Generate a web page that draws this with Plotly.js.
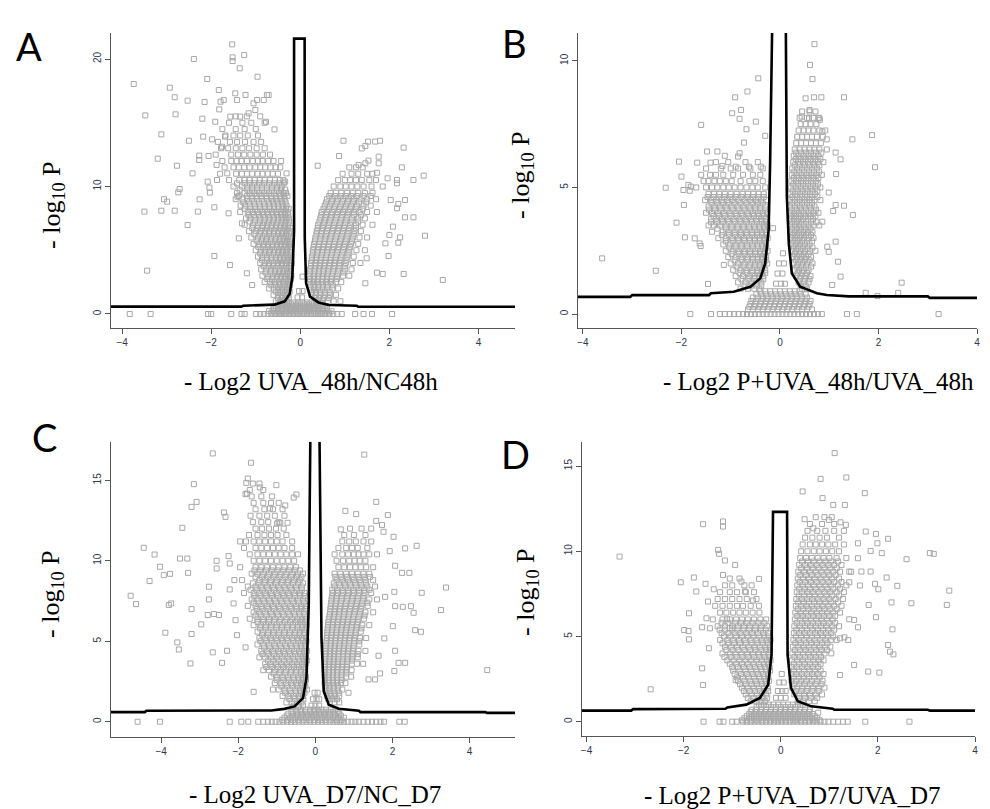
<!DOCTYPE html>
<html>
<head>
<meta charset="utf-8">
<script src="https://cdn.plot.ly/plotly-3.0.1.min.js"></script>
<style>html,body{margin:0;padding:0;background:#fff}#chart{width:990px;height:809px}</style>
</head>
<body>
<div id="chart"></div>
<script>
// ---------- Panel A : - Log2 UVA_48h/NC48h ----------
const A_points = [
[-3.74,18.04],[-3.48,15.58],[-3.50,8.03],[-3.44,3.40],[-3.20,12.18],[-3.12,14.09],[-3.12,8.10],[-3.06,9.0],[-2.99,8.81],[-2.93,17.75],[-2.82,17.0],[-2.80,15.66],[-2.82,8.10],[-2.77,11.63],[-2.71,9.8],[-2.74,9.54],[-2.53,16.73],[-2.50,13.59],[-2.53,6.98],[-2.42,11.03],[-2.39,20.0],[-2.30,8.03],[-2.27,12.42],[-2.27,12.08],[-2.26,8.99],[-2.20,15.32],[-2.18,13.91],[-2.15,16.63],[-2.09,18.43],[-2.08,10.38],[-2.06,12.39],[-2.04,9.91],[-2.03,9.52],[-1.98,13.70],[-1.93,8.37],[-1.93,4.55],[-1.91,15.08],[-1.88,11.69],[-1.87,10.51],[-1.83,17.57],[-1.82,16.05],[-1.79,16.65],[-1.76,13.12],[-1.72,16.78],[-1.69,13.91],[-1.64,11.03],[-1.61,7.9],[-1.58,3.84],[-1.57,15.48],[-1.53,21.15],[-1.52,20.13],[-1.52,19.84],[-1.46,17.31],[-1.42,16.78],[-1.41,9.2],[-1.38,5.93],[-1.36,19.27],[-1.35,15.48],[-1.31,7.11],[-1.26,20.31],[-1.23,17.18],[-1.20,3.19],[-1.16,15.74],[-1.08,2.27],[-1.05,16.52],[-1.01,16.0],[-0.97,16.78],[-0.96,18.61],[-0.82,16.78],[-0.77,15.08],[-0.75,17.18],[-0.71,17.18],[-0.58,14.48],[-0.43,12.0],[-0.34,10.38],[-0.31,11.03],
[0.39,11.63],[0.87,12.39],[0.97,13.59],[1.38,12.99],[1.46,13.18],[1.52,13.52],[1.68,13.52],[1.79,13.59],[1.76,12.34],[1.76,11.82],[1.31,11.69],[1.46,11.82],[1.53,12.03],[1.72,11.08],[2.32,13.05],[2.28,11.5],[1.96,10.64],[2.17,10.51],[2.17,10.25],[2.54,10.51],[2.77,10.85],[2.35,8.94],[2.03,8.94],[2.20,8.63],[2.17,8.29],[2.35,7.58],[2.54,7.58],[2.08,6.85],[2.00,6.2],[2.24,6.01],[2.20,5.59],[1.91,5.54],[1.98,4.55],[2.80,6.14],[2.32,3.14],[1.85,3.14],[1.72,3.24],[3.20,2.67],[1.46,2.41],[1.49,4.37],[0.05,2.93]
];
// rows: [y, x1, x2, ...]
const A_rows = [
[15.5,-1.45,-1.2,-0.9],
[15.0,-1.6,-1.3,-1.1,-0.8],
[14.5,-1.75,-1.45,-1.25,-1.0],
[14.0,-1.68,-1.5,-1.35,-1.18,-0.95],
[13.5,-1.85,-1.58,-1.42,-1.24,-1.05,-0.88],
[13.0,-1.78,-1.62,-1.45,-1.3,-1.15,-0.98,-0.8],
[12.5,-1.9,-1.55,-1.4,-1.26,-1.12,-0.98,-0.84,-0.68],
[12.0,-1.75,-1.55,-1.43,-1.32,-1.2,-1.07,-0.95,-0.85,-0.72,-0.6],
[11.5,-1.7,-1.5,-1.38,-1.26,-1.14,-1.01,-0.9,-0.79,-0.67,-0.55,-0.45],
[11.0,-1.8,-1.44,-1.31,-1.2,-1.08,-0.96,-0.85,-0.73,-0.62,-0.5],
[10.5,-1.6,-1.37,-1.25,-1.14,-1.02,-0.91,-0.8,-0.68,-0.57,-0.46,-0.38],
[10.25,-1.42,-1.25,-1.14,-1.03,-0.92,-0.81,-0.7,-0.58,-0.47,-0.37],
[10.0,-1.5,-1.31,-1.19,-1.08,-0.97,-0.86,-0.75,-0.63,-0.52,-0.42],
[9.75,-1.36,-1.19,-1.08,-0.97,-0.86,-0.75,-0.64,-0.53,-0.43,-0.34],
[9.5,-1.42,-1.25,-1.14,-1.03,-0.92,-0.81,-0.7,-0.59,-0.48,-0.38,-0.32],
[9.25,-1.38,-1.2,-1.09,-0.98,-0.87,-0.76,-0.65,-0.55,-0.45,-0.36,-0.29],
[9.0,-1.45,-1.3,-1.19,-1.08,-0.97,-0.86,-0.75,-0.64,-0.54,-0.44,-0.35],
[8.75,-1.28,-1.15,-1.04,-0.93,-0.82,-0.71,-0.61,-0.51,-0.41,-0.33],
[8.5,-1.34,-1.24,-1.13,-1.02,-0.91,-0.8,-0.69,-0.59,-0.49,-0.39,-0.31],
[8.25,-1.25,-1.12,-1.01,-0.9,-0.79,-0.69,-0.59,-0.49,-0.4,-0.32,-0.26],
[8.0,-1.35,-1.18,-1.07,-0.96,-0.85,-0.74,-0.64,-0.54,-0.44,-0.35,-0.28],
[7.75,-1.16,-1.04,-0.93,-0.83,-0.72,-0.62,-0.52,-0.43,-0.34,-0.27],
[7.5,-1.22,-1.12,-1.01,-0.9,-0.79,-0.69,-0.59,-0.49,-0.4,-0.31,-0.26],
[7.25,-1.14,-1.02,-0.91,-0.81,-0.71,-0.61,-0.51,-0.42,-0.33,-0.25],
[7.0,-1.25,-1.06,-0.95,-0.84,-0.74,-0.64,-0.54,-0.44,-0.35,-0.27],
[6.75,-1.08,-0.96,-0.85,-0.75,-0.65,-0.55,-0.45,-0.36,-0.28,-0.22],
[6.5,-1.15,-1.0,-0.89,-0.79,-0.69,-0.59,-0.49,-0.4,-0.31,-0.24],
[6.25,-1.03,-0.91,-0.8,-0.7,-0.6,-0.5,-0.41,-0.32,-0.25],
[6.0,-1.1,-0.95,-0.85,-0.75,-0.65,-0.55,-0.45,-0.36,-0.28,-0.21],
[5.75,-0.98,-0.87,-0.77,-0.67,-0.57,-0.47,-0.38,-0.3,-0.23],
[5.5,-1.05,-0.92,-0.82,-0.72,-0.62,-0.52,-0.43,-0.34,-0.26,-0.2],
[5.25,-0.94,-0.83,-0.73,-0.63,-0.53,-0.44,-0.35,-0.27,-0.21],
[5.0,-1.0,-0.88,-0.78,-0.68,-0.58,-0.48,-0.39,-0.3,-0.22],
[4.75,-0.9,-0.8,-0.7,-0.6,-0.5,-0.41,-0.32,-0.24],
[4.5,-0.95,-0.85,-0.75,-0.65,-0.55,-0.45,-0.36,-0.28,-0.2],
[4.25,-0.86,-0.75,-0.65,-0.55,-0.46,-0.37,-0.29,-0.22],
[4.0,-0.9,-0.8,-0.7,-0.6,-0.5,-0.41,-0.32,-0.24,-0.19],
[3.75,-0.82,-0.71,-0.61,-0.51,-0.42,-0.33,-0.25],
[3.5,-0.88,-0.76,-0.66,-0.56,-0.46,-0.37,-0.29,-0.21],
[3.25,-0.78,-0.67,-0.57,-0.48,-0.39,-0.3,-0.23],
[3.0,-0.85,-0.72,-0.62,-0.52,-0.43,-0.34,-0.26,-0.2],
[2.75,-0.74,-0.63,-0.53,-0.44,-0.35,-0.27,-0.21],
[2.5,-0.8,-0.68,-0.58,-0.48,-0.39,-0.31,-0.24],
[2.25,-0.65,-0.55,-0.46,-0.37,-0.29,-0.23],
[2.0,-0.7,-0.6,-0.5,-0.41,-0.33,-0.26],
[1.75,-0.55,-0.46,-0.38,-0.3,-0.24],
[1.5,-0.6,-0.5,-0.42,-0.34,-0.27],
[1.25,-0.5,-0.41,-0.33,-0.26],
[1.0,-0.55,-0.45,-0.37,-0.3],
[11.5,1.1,1.25,1.4],
[11.0,0.95,1.15,1.3,1.5,1.62],
[10.5,0.85,1.0,1.12,1.25,1.38,1.55,1.7],
[10.0,0.75,0.9,1.02,1.15,1.28,1.42,1.6,1.85],
[9.5,0.68,0.8,0.92,1.05,1.18,1.3,1.45,1.62],
[9.25,0.65,0.78,0.9,1.02,1.14,1.27,1.42,1.58],
[9.0,0.6,0.72,0.84,0.96,1.08,1.2,1.35,1.5,1.7],
[8.75,0.58,0.7,0.82,0.94,1.06,1.18,1.32,1.48],
[8.5,0.55,0.66,0.78,0.9,1.02,1.14,1.27,1.42,1.58],
[8.25,0.52,0.64,0.76,0.88,1.0,1.12,1.25,1.4],
[8.0,0.48,0.6,0.72,0.84,0.96,1.08,1.2,1.33,1.5,1.72],
[7.75,0.47,0.58,0.7,0.82,0.94,1.06,1.2,1.36],
[7.5,0.45,0.56,0.68,0.8,0.92,1.04,1.16,1.3,1.45],
[7.25,0.43,0.54,0.66,0.78,0.9,1.02,1.15,1.3],
[7.0,0.4,0.52,0.64,0.76,0.88,1.0,1.12,1.25,1.4,1.62],
[6.75,0.39,0.5,0.62,0.74,0.86,0.98,1.1,1.25],
[6.5,0.37,0.48,0.6,0.72,0.84,0.96,1.08,1.22,1.36],
[6.25,0.36,0.47,0.58,0.7,0.82,0.94,1.06,1.2],
[6.0,0.34,0.45,0.56,0.68,0.8,0.92,1.04,1.18,1.33,1.5],
[5.75,0.33,0.44,0.55,0.66,0.78,0.9,1.02,1.16],
[5.5,0.31,0.42,0.53,0.64,0.76,0.88,1.0,1.14,1.3],
[5.25,0.3,0.41,0.52,0.63,0.75,0.86,0.98,1.12],
[5.0,0.28,0.39,0.5,0.61,0.72,0.84,0.96,1.1,1.26,1.45],
[4.75,0.28,0.38,0.49,0.6,0.71,0.82,0.94,1.08],
[4.5,0.26,0.36,0.47,0.58,0.69,0.8,0.92,1.06,1.2],
[4.25,0.26,0.36,0.46,0.57,0.68,0.79,0.9,1.04],
[4.0,0.24,0.34,0.44,0.55,0.66,0.77,0.88,1.02,1.18,1.35],
[3.75,0.24,0.34,0.44,0.54,0.65,0.76,0.88,1.0],
[3.5,0.22,0.32,0.42,0.52,0.63,0.74,0.86,1.0,1.15],
[3.25,0.22,0.32,0.42,0.52,0.62,0.73,0.85,0.97],
[3.0,0.2,0.3,0.4,0.5,0.6,0.71,0.83,0.96,1.1],
[2.75,0.22,0.31,0.4,0.5,0.6,0.7,0.82],
[2.5,0.2,0.29,0.38,0.48,0.58,0.68,0.8,0.92],
[2.25,0.23,0.32,0.41,0.51,0.61,0.73],
[2.0,0.22,0.31,0.4,0.5,0.6,0.72,0.85],
[1.75,0.26,0.35,0.45,0.55,0.66],
[1.5,0.25,0.35,0.45,0.55,0.67,0.8],
[1.25,0.32,0.42,0.52,0.64],
[1.0,0.38,0.5,0.62,0.75,0.9],
[1.8,-0.03,0.05],
[1.3,-0.06,0.04],
[0.9,-0.45,-0.35,-0.25,-0.15,-0.05,0.05,0.15,0.25,0.35,0.45],
[0.75,-0.5,-0.4,-0.3,-0.2,-0.1,0,0.1,0.2,0.3,0.4,0.5],
[0.6,-0.55,-0.45,-0.36,-0.27,-0.18,-0.09,0,0.09,0.18,0.27,0.36,0.45,0.55],
[0.48,-0.6,-0.5,-0.41,-0.32,-0.23,-0.14,-0.05,0.05,0.14,0.23,0.32,0.41,0.5,0.6],
[0.35,-0.6,-0.5,-0.4,-0.3,-0.2,-0.1,0,0.1,0.2,0.3,0.4,0.5,0.6],
[0.22,-0.7,-0.6,-0.5,-0.4,-0.3,-0.2,-0.1,0,0.1,0.2,0.3,0.4,0.5,0.6,0.7],
[0.1,-0.65,-0.55,-0.45,-0.35,-0.25,-0.15,-0.05,0.05,0.15,0.25,0.35,0.45,0.55,0.65]
];
const A_zero = [-3.83,-3.36,-2.07,-2.0,-1.55,-1.32,-1.25,-0.99,-0.9,-0.82,-0.73,-0.65,-0.56,-0.48,-0.4,-0.32,-0.24,-0.16,-0.08,0,0.08,0.16,0.24,0.32,0.4,0.48,0.56,0.65,0.74,0.83,0.93,1.23,1.42,1.61,2.06];
const A_curveX = [-4.25,-1.32,-1.28,-0.58,-0.35,-0.24,-0.18,-0.14,-0.14,0.097,0.1,0.13,0.22,0.41,0.64,1.27,1.3,4.82];
const A_curveY = [0.58,0.58,0.65,0.73,0.99,1.56,2.86,6.5,21.6,21.6,6.0,2.41,1.36,0.89,0.7,0.65,0.57,0.57];

// ---------- Panel B : - Log2 P+UVA_48h/UVA_48h ----------
const B_points = [
[-3.61,2.20],[-2.52,1.71],[-2.32,4.99],[-2.10,3.61],[-2.05,6.02],[-2.0,5.43],[-1.96,4.9],[-1.95,4.31],[-1.93,3.03],[-1.86,5.10],[-1.83,4.87],[-1.81,5.03],[-1.73,2.99],[-1.68,5.98],[-1.63,2.79],[-1.60,7.47],[-1.61,2.69],[-1.48,6.42],[-1.46,1.19],[-1.41,5.98],[-1.27,6.42],[-1.17,5.85],[-1.12,6.25],[-1.14,1.94],[-0.97,7.93],[-0.91,8.56],[-0.90,5.82],[-0.85,6.22],[-0.82,6.35],[-0.82,7.71],[-0.79,8.06],[-0.73,6.77],[-0.68,7.3],[-0.66,8.79],[-0.63,5.82],[-0.49,7.60],[-0.44,9.31],[-0.39,5.82],[-0.30,7.04],[-0.14,3.39],
[0.61,9.84],[0.66,9.28],[0.52,8.52],[0.60,8.06],[0.69,8.56],[0.84,8.56],[1.30,8.56],[0.70,10.66],[0.44,7.80],[0.59,7.73],[0.78,7.73],[0.81,7.67],[0.86,7.21],[0.95,6.9],[1.47,6.9],[1.87,7.07],[1.93,5.80],[1.13,6.38],[1.23,6.11],[1.14,5.53],[0.99,4.80],[1.13,4.31],[1.30,4.28],[1.08,4.07],[1.48,3.91],[0.86,3.65],[1.13,2.86],[1.18,2.07],[1.23,1.48],[1.06,1.15],[1.74,0.84],[1.98,0.71],[2.40,0.84],[2.47,1.24],[0.99,2.46],[0.96,2.66]
];
const B_rows = [
[6.0,-1.3,-1.05,-0.7,-0.45],
[5.75,-1.5,-1.2,-1.0,-0.85,-0.6,-0.35],
[5.5,-1.6,-1.42,-1.3,-1.15,-0.95,-0.75,-0.55,-0.4],
[5.25,-1.55,-1.45,-1.33,-1.22,-1.1,-0.98,-0.8,-0.62,-0.5,-0.35],
[5.0,-1.7,-1.5,-1.38,-1.27,-1.15,-1.04,-0.92,-0.8,-0.68,-0.56,-0.45,-0.3],
[4.75,-1.45,-1.34,-1.23,-1.12,-1.0,-0.88,-0.76,-0.65,-0.54,-0.43,-0.33],
[4.625,-1.47,-1.35,-1.24,-1.13,-1.01,-0.9,-0.78,-0.66,-0.55,-0.44,-0.33],
[4.5,-1.52,-1.4,-1.29,-1.18,-1.07,-0.96,-0.84,-0.72,-0.6,-0.49,-0.38,-0.28],
[4.375,-1.39,-1.27,-1.16,-1.04,-0.92,-0.8,-0.68,-0.56,-0.45,-0.35],
[4.25,-1.45,-1.33,-1.22,-1.1,-0.98,-0.86,-0.74,-0.62,-0.5,-0.4,-0.3],
[4.125,-1.44,-1.32,-1.2,-1.08,-0.96,-0.84,-0.72,-0.6,-0.5,-0.4,-0.3],
[4.0,-1.5,-1.38,-1.26,-1.14,-1.02,-0.9,-0.78,-0.66,-0.55,-0.45,-0.35,-0.26],
[3.875,-1.35,-1.24,-1.12,-1.0,-0.88,-0.76,-0.64,-0.53,-0.43,-0.33],
[3.75,-1.4,-1.3,-1.18,-1.06,-0.94,-0.82,-0.7,-0.59,-0.48,-0.38,-0.29],
[3.625,-1.4,-1.28,-1.16,-1.04,-0.92,-0.8,-0.68,-0.57,-0.47,-0.37,-0.29],
[3.5,-1.45,-1.34,-1.22,-1.1,-0.98,-0.86,-0.74,-0.63,-0.52,-0.42,-0.33,-0.25],
[3.375,-1.27,-1.1,-0.98,-0.86,-0.74,-0.62,-0.51,-0.41,-0.32],
[3.25,-1.38,-1.16,-1.04,-0.92,-0.8,-0.68,-0.57,-0.46,-0.37,-0.28],
[3.125,-1.18,-1.04,-0.91,-0.79,-0.67,-0.56,-0.46,-0.36,-0.28],
[3.0,-1.25,-1.1,-0.97,-0.85,-0.73,-0.62,-0.51,-0.41,-0.32,-0.25],
[2.875,-1.1,-0.96,-0.84,-0.72,-0.61,-0.51,-0.41,-0.32],
[2.75,-1.15,-1.02,-0.9,-0.78,-0.67,-0.56,-0.46,-0.36,-0.28],
[2.625,-1.03,-0.9,-0.78,-0.66,-0.55,-0.45,-0.35,-0.28],
[2.5,-1.1,-0.96,-0.84,-0.72,-0.61,-0.5,-0.4,-0.31,-0.25],
[2.375,-0.98,-0.84,-0.72,-0.6,-0.5,-0.4,-0.32],
[2.25,-1.05,-0.9,-0.78,-0.66,-0.55,-0.45,-0.36,-0.28],
[2.125,-0.92,-0.78,-0.66,-0.55,-0.45,-0.36,-0.29],
[2.0,-1.0,-0.85,-0.72,-0.6,-0.5,-0.41,-0.32,-0.26],
[1.875,-0.88,-0.74,-0.62,-0.51,-0.41,-0.33],
[1.75,-0.95,-0.8,-0.68,-0.56,-0.46,-0.37,-0.3],
[1.625,-0.82,-0.68,-0.56,-0.46,-0.37,-0.3],
[1.5,-0.9,-0.75,-0.62,-0.51,-0.42,-0.34],
[1.375,-0.78,-0.64,-0.52,-0.42,-0.34],
[1.25,-0.85,-0.7,-0.58,-0.47,-0.38],
[1.125,-0.72,-0.58,-0.47,-0.38],
[1.0,-0.8,-0.65,-0.52,-0.42],
[8.0,0.45,0.6,0.72],
[7.75,0.4,0.55,0.68,0.8],
[7.5,0.42,0.52,0.62,0.74],
[7.25,0.38,0.48,0.58,0.68,0.8,0.92],
[7.0,0.35,0.45,0.55,0.65,0.75,0.87],
[6.75,0.33,0.43,0.53,0.63,0.73,0.83],
[6.5,0.3,0.4,0.5,0.6,0.7,0.8,0.95],
[6.375,0.33,0.43,0.53,0.63,0.73,0.84],
[6.25,0.28,0.38,0.48,0.58,0.68,0.78],
[6.125,0.32,0.42,0.52,0.62,0.72,0.82],
[6.0,0.27,0.37,0.47,0.57,0.67,0.77,0.88],
[5.875,0.3,0.4,0.5,0.6,0.7,0.8],
[5.75,0.25,0.35,0.45,0.55,0.65,0.75],
[5.625,0.29,0.39,0.49,0.59,0.69,0.79],
[5.5,0.24,0.34,0.44,0.54,0.64,0.74,0.85],
[5.375,0.28,0.38,0.48,0.58,0.68,0.78],
[5.25,0.23,0.33,0.43,0.53,0.63,0.73],
[5.125,0.27,0.37,0.47,0.57,0.67,0.77],
[5.0,0.22,0.32,0.42,0.52,0.62,0.72,0.82],
[4.875,0.26,0.36,0.46,0.56,0.66,0.76],
[4.75,0.21,0.31,0.41,0.51,0.61,0.71],
[4.625,0.25,0.35,0.45,0.55,0.65,0.76],
[4.5,0.2,0.3,0.4,0.5,0.6,0.7,0.82],
[4.375,0.25,0.35,0.45,0.55,0.65],
[4.25,0.2,0.3,0.4,0.5,0.6,0.7],
[4.125,0.24,0.34,0.43,0.53,0.63,0.73],
[4.0,0.2,0.29,0.38,0.48,0.58,0.68,0.78],
[3.875,0.24,0.33,0.42,0.52,0.62,0.72],
[3.75,0.2,0.29,0.38,0.47,0.57,0.67],
[3.625,0.25,0.34,0.43,0.53,0.63,0.74],
[3.5,0.21,0.3,0.39,0.48,0.58,0.68,0.8],
[3.375,0.25,0.34,0.43,0.52,0.62],
[3.25,0.21,0.3,0.39,0.48,0.57,0.66],
[3.125,0.26,0.35,0.44,0.53,0.63],
[3.0,0.22,0.31,0.4,0.49,0.58,0.68],
[2.875,0.27,0.36,0.45,0.55,0.65],
[2.75,0.23,0.32,0.41,0.5,0.6],
[2.625,0.28,0.37,0.46,0.56,0.66],
[2.5,0.24,0.33,0.42,0.51,0.61,0.72],
[2.375,0.3,0.39,0.48,0.58],
[2.25,0.26,0.35,0.44,0.53,0.63],
[2.125,0.32,0.41,0.5,0.6],
[2.0,0.28,0.37,0.46,0.55,0.66],
[1.875,0.34,0.43,0.53,0.63],
[1.75,0.3,0.39,0.48,0.58],
[1.625,0.36,0.45,0.55],
[1.5,0.33,0.42,0.52,0.62],
[1.375,0.4,0.5,0.6],
[1.25,0.38,0.48,0.58],
[1.125,0.42,0.52],
[1.0,0.45,0.55],
[2.4,0.06],
[2.0,-0.02,0.08],
[1.6,-0.05,0.05],
[1.2,-0.08,0.02,0.1],
[0.9,-0.4,-0.3,-0.2,-0.1,0,0.1,0.2,0.3,0.4],
[0.78,-0.48,-0.38,-0.28,-0.18,-0.08,0.02,0.12,0.22,0.32,0.42,0.52],
[0.65,-0.55,-0.45,-0.35,-0.25,-0.15,-0.05,0.05,0.15,0.25,0.35,0.45,0.55],
[0.52,-0.58,-0.48,-0.38,-0.28,-0.18,-0.08,0.02,0.12,0.22,0.32,0.42,0.52,0.62],
[0.4,-0.6,-0.5,-0.4,-0.3,-0.2,-0.1,0,0.1,0.2,0.3,0.4,0.5,0.6],
[0.29,-0.62,-0.52,-0.42,-0.32,-0.22,-0.12,-0.02,0.08,0.18,0.28,0.38,0.48,0.58],
[0.18,-0.65,-0.55,-0.45,-0.35,-0.25,-0.15,-0.05,0.05,0.15,0.25,0.35,0.45,0.55,0.65]
];
const B_zero = [-1.82,-1.4,-1.22,-1.12,-1.02,-0.93,-0.84,-0.75,-0.67,-0.59,-0.51,-0.43,-0.35,-0.27,-0.19,-0.11,-0.03,0.05,0.13,0.21,0.29,0.37,0.45,0.53,0.61,0.69,0.77,0.85,1.36,1.56,3.22];
const B_leftX = [-4.1,-3.04,-3.0,-1.44,-1.4,-0.94,-0.60,-0.40,-0.30,-0.23,-0.20,-0.16];
const B_leftY = [0.68,0.68,0.75,0.75,0.82,0.88,1.08,1.41,2.0,3.32,5.96,11.1];
const B_rightX = [0.12,0.13,0.14,0.18,0.24,0.41,0.75,0.95,1.36,1.4,3.0,3.04,4.0];
const B_rightY = [11.1,6.0,4.64,2.79,1.61,1.08,0.82,0.75,0.73,0.70,0.70,0.64,0.64];

// ---------- Panel C : - Log2 UVA_D7/NC_D7 ----------
const C_points = [
[-4.79,7.83],[-4.65,7.31],[-4.45,10.81],[-4.30,8.74],[-4.17,10.39],[-4.03,9.63],[-3.93,9.11],[-3.77,9.19],[-3.80,7.25],[-3.74,7.35],[-3.89,5.53],[-3.58,4.93],[-3.54,4.49],[-3.51,10.14],[-3.32,10.14],[-3.45,12.05],[-3.30,9.25],[-3.24,3.62],[-3.21,13.35],[-3.21,7.0],[-3.21,5.45],[-3.15,14.76],[-3.08,13.66],[-2.96,6.05],[-2.79,6.63],[-2.76,7.60],[-2.76,8.39],[-2.66,4.31],[-2.66,16.67],[-2.56,10.0],[-2.56,9.52],[-2.63,6.69],[-2.50,6.63],[-2.42,3.66],[-2.37,13.0],[-2.33,12.73],[-2.29,4.41],[-2.25,10.29],[-2.22,9.83],[-2.22,8.22],[-2.12,7.35],[-2.07,6.31],[-2.03,5.38],[-1.81,4.62],[-1.60,1.86],[-1.67,16.09],[-1.75,15.11],[-1.79,14.84],[-1.77,14.18],[-1.81,14.14],[-1.44,14.56],[-1.01,14.70],[-0.78,13.44],[-0.56,13.93],[-0.49,14.12],[-0.91,12.36],[-0.72,12.36],[-1.18,13.25],[-0.99,12.32],
[1.27,16.6],[1.58,13.66],[0.78,13.1],[1.06,12.9],[1.88,12.84],[1.58,12.48],[1.73,12.22],[0.66,11.95],[1.77,11.80],[2.03,11.49],[2.63,10.93],[2.33,10.77],[1.93,10.60],[2.07,9.69],[2.25,9.25],[2.44,9.25],[2.76,8.01],[3.39,8.34],[2.05,8.07],[1.81,7.76],[2.07,7.18],[2.27,7.14],[2.48,7.18],[2.55,6.77],[3.26,6.94],[2.59,5.69],[2.74,5.59],[2.01,5.94],[1.79,5.18],[1.64,4.10],[2.07,4.41],[2.16,3.66],[2.33,3.66],[2.05,3.15],[1.55,2.63],[1.38,2.63],[1.68,3.0],[4.46,3.21],[0.86,1.80]
];
const C_rows = [
[14.8,-1.62,-1.45],
[14.4,-1.7,-1.35],
[14.0,-1.65,-1.4,-1.12],
[13.6,-1.6,-1.35,-1.15,-0.95],
[13.2,-1.55,-1.32,-1.1,-0.85],
[12.8,-1.68,-1.45,-1.25,-1.05,-0.8],
[12.4,-1.62,-1.4,-1.22,-0.95],
[12.0,-1.55,-1.38,-1.2,-1.02,-0.82],
[11.6,-1.72,-1.5,-1.32,-1.15,-0.98,-0.75],
[11.2,-1.95,-1.8,-1.6,-1.45,-1.3,-1.15,-1.0,-0.85,-0.6],
[10.8,-1.85,-1.55,-1.4,-1.25,-1.1,-0.95,-0.8,-0.6],
[10.4,-1.7,-1.5,-1.35,-1.2,-1.05,-0.9,-0.75,-0.6,-0.45],
[10.0,-1.6,-1.45,-1.3,-1.15,-1.0,-0.85,-0.7,-0.55],
[9.6,-1.95,-1.55,-1.4,-1.25,-1.1,-0.95,-0.8,-0.65,-0.5],
[9.4,-1.58,-1.43,-1.28,-1.13,-0.98,-0.83,-0.68,-0.53,-0.4],
[9.2,-1.65,-1.5,-1.35,-1.2,-1.05,-0.9,-0.75,-0.6,-0.45,-0.32],
[9.0,-1.55,-1.38,-1.23,-1.08,-0.93,-0.78,-0.63,-0.48,-0.36],
[8.8,-2.1,-1.9,-1.45,-1.3,-1.15,-1.0,-0.85,-0.7,-0.55,-0.4],
[8.6,-1.62,-1.47,-1.32,-1.17,-1.02,-0.87,-0.72,-0.58,-0.44,-0.32],
[8.4,-1.75,-1.55,-1.4,-1.25,-1.1,-0.95,-0.8,-0.65,-0.5,-0.35],
[8.2,-1.68,-1.52,-1.37,-1.22,-1.07,-0.92,-0.77,-0.62,-0.48,-0.35],
[8.0,-1.85,-1.6,-1.45,-1.3,-1.15,-1.0,-0.85,-0.7,-0.55,-0.4,-0.28],
[7.8,-1.58,-1.42,-1.27,-1.12,-0.97,-0.82,-0.67,-0.53,-0.39,-0.28],
[7.6,-1.65,-1.5,-1.35,-1.2,-1.05,-0.9,-0.75,-0.6,-0.45,-0.32],
[7.4,-1.6,-1.47,-1.32,-1.17,-1.02,-0.87,-0.72,-0.57,-0.43,-0.3],
[7.2,-1.75,-1.55,-1.4,-1.25,-1.1,-0.95,-0.8,-0.65,-0.5,-0.36,-0.25],
[7.0,-1.52,-1.37,-1.22,-1.07,-0.92,-0.77,-0.62,-0.48,-0.36,-0.26],
[6.8,-1.6,-1.45,-1.3,-1.15,-1.0,-0.85,-0.7,-0.55,-0.42,-0.3],
[6.6,-1.55,-1.42,-1.27,-1.12,-0.97,-0.82,-0.67,-0.53,-0.4,-0.28],
[6.4,-1.7,-1.5,-1.35,-1.2,-1.05,-0.9,-0.75,-0.6,-0.46,-0.34,-0.24],
[6.2,-1.5,-1.35,-1.21,-1.07,-0.93,-0.79,-0.65,-0.51,-0.39,-0.28],
[6.0,-1.6,-1.42,-1.28,-1.14,-1.0,-0.86,-0.72,-0.58,-0.45,-0.33,-0.23],
[5.8,-1.43,-1.29,-1.15,-1.01,-0.87,-0.73,-0.59,-0.46,-0.34,-0.25],
[5.6,-1.5,-1.36,-1.22,-1.08,-0.94,-0.8,-0.66,-0.52,-0.4,-0.29],
[5.4,-1.38,-1.23,-1.09,-0.95,-0.81,-0.67,-0.53,-0.41,-0.3],
[5.2,-1.45,-1.3,-1.16,-1.02,-0.88,-0.74,-0.6,-0.47,-0.35,-0.24],
[5.0,-1.42,-1.27,-1.13,-0.99,-0.85,-0.71,-0.57,-0.44,-0.32,-0.23],
[4.8,-1.5,-1.35,-1.2,-1.06,-0.92,-0.78,-0.64,-0.5,-0.38,-0.27],
[4.6,-1.33,-1.18,-1.03,-0.89,-0.75,-0.61,-0.48,-0.36,-0.26],
[4.4,-1.4,-1.25,-1.1,-0.96,-0.82,-0.68,-0.55,-0.42,-0.3,-0.22],
[4.2,-1.37,-1.22,-1.07,-0.93,-0.79,-0.65,-0.52,-0.39,-0.28],
[4.0,-1.45,-1.3,-1.15,-1.0,-0.86,-0.72,-0.58,-0.45,-0.33,-0.24],
[3.8,-1.23,-1.09,-0.95,-0.81,-0.67,-0.54,-0.41,-0.3,-0.22],
[3.6,-1.3,-1.16,-1.02,-0.88,-0.74,-0.6,-0.47,-0.35,-0.25],
[3.4,-1.27,-1.12,-0.97,-0.83,-0.69,-0.55,-0.43,-0.31],
[3.2,-1.35,-1.2,-1.05,-0.9,-0.76,-0.62,-0.49,-0.37,-0.26],
[3.0,-1.08,-0.93,-0.78,-0.64,-0.5,-0.38,-0.28],
[2.8,-1.15,-1.0,-0.85,-0.71,-0.57,-0.44,-0.33,-0.24],
[2.6,-1.0,-0.83,-0.69,-0.55,-0.43,-0.32,-0.24],
[2.4,-1.05,-0.9,-0.76,-0.62,-0.49,-0.37,-0.27],
[2.2,-0.88,-0.73,-0.59,-0.46,-0.35,-0.26],
[2.0,-1.1,-0.95,-0.8,-0.66,-0.52,-0.4,-0.3,-0.22],
[1.8,-0.78,-0.63,-0.5,-0.38,-0.28],
[1.6,-0.85,-0.7,-0.56,-0.43,-0.32],
[1.4,-0.67,-0.53,-0.41,-0.31],
[1.2,-0.75,-0.6,-0.47,-0.36],
[1.0,-0.55,-0.42,-0.32],
[0.9,-0.6,-0.45],
[12.0,0.9,1.2,1.45],
[11.6,0.75,1.0,1.3],
[11.2,0.7,0.88,1.05,1.25,1.45],
[10.8,0.6,0.8,0.95,1.1,1.35],
[10.4,0.5,0.7,0.85,1.0,1.12,1.25,1.4,1.6],
[10.0,0.55,0.72,0.88,1.02,1.15,1.3],
[9.6,0.6,0.75,0.9,1.04,1.18,1.32,1.5],
[9.2,0.5,0.65,0.8,0.95,1.1,1.25,1.4],
[9.0,0.52,0.67,0.82,0.97,1.12,1.27,1.42],
[8.8,0.55,0.7,0.85,1.0,1.15,1.3,1.5],
[8.6,0.48,0.62,0.76,0.9,1.04,1.18,1.32],
[8.4,0.5,0.64,0.78,0.92,1.06,1.2,1.35,1.55],
[8.2,0.44,0.57,0.71,0.85,0.99,1.13,1.27,1.4],
[8.0,0.45,0.58,0.72,0.86,1.0,1.14,1.28,1.45],
[7.8,0.43,0.55,0.69,0.83,0.97,1.11,1.25],
[7.6,0.42,0.55,0.68,0.82,0.96,1.1,1.24,1.4,1.6],
[7.4,0.41,0.53,0.66,0.8,0.94,1.08,1.22,1.35],
[7.2,0.4,0.52,0.65,0.78,0.92,1.06,1.2,1.36],
[7.0,0.39,0.51,0.63,0.77,0.9,1.04,1.18],
[6.8,0.38,0.5,0.62,0.75,0.88,1.02,1.16,1.3,1.5],
[6.6,0.37,0.49,0.61,0.74,0.87,1.0,1.14,1.28],
[6.4,0.35,0.47,0.6,0.72,0.85,0.98,1.12,1.26],
[6.2,0.34,0.46,0.58,0.71,0.84,0.97,1.1],
[6.0,0.33,0.45,0.57,0.7,0.82,0.95,1.08,1.22,1.4],
[5.8,0.32,0.44,0.56,0.68,0.81,0.94,1.07,1.2],
[5.6,0.31,0.43,0.55,0.67,0.79,0.92,1.05,1.18],
[5.4,0.31,0.42,0.54,0.66,0.78,0.91,1.04],
[5.2,0.3,0.41,0.53,0.65,0.77,0.89,1.02,1.16,1.32],
[5.0,0.29,0.4,0.52,0.64,0.76,0.88,1.01,1.14],
[4.8,0.28,0.4,0.51,0.63,0.75,0.87,1.0,1.14],
[4.6,0.28,0.39,0.5,0.62,0.74,0.86,0.99],
[4.4,0.27,0.38,0.49,0.61,0.73,0.85,0.98,1.12,1.3],
[4.2,0.27,0.38,0.49,0.6,0.72,0.84,0.97,1.1],
[4.0,0.26,0.37,0.48,0.6,0.72,0.84,0.96,1.1],
[3.8,0.26,0.37,0.48,0.59,0.71,0.83,0.95],
[3.6,0.25,0.36,0.47,0.58,0.7,0.82,0.95,1.08,1.24],
[3.4,0.25,0.36,0.47,0.58,0.7,0.82],
[3.2,0.24,0.35,0.46,0.57,0.69,0.81,0.94],
[3.0,0.25,0.35,0.46,0.57,0.68,0.8],
[2.8,0.24,0.34,0.45,0.56,0.68,0.8,0.93],
[2.6,0.25,0.35,0.46,0.57,0.68],
[2.4,0.24,0.34,0.45,0.56,0.67,0.78],
[2.2,0.27,0.37,0.48,0.59],
[2.0,0.26,0.36,0.47,0.58,0.7],
[1.8,0.29,0.39,0.5,0.61],
[1.6,0.3,0.4,0.5,0.62],
[1.4,0.34,0.45,0.56],
[1.2,0.38,0.5,0.62],
[1.8,-0.02,0.06],
[1.4,-0.06,0.03,0.1],
[1.0,-0.1,0,0.1],
[0.75,-0.5,-0.38,-0.26,-0.14,-0.04,0.06,0.16,0.28,0.4,0.52],
[0.62,-0.62,-0.5,-0.38,-0.26,-0.14,-0.02,0.1,0.22,0.34,0.46,0.58],
[0.5,-0.7,-0.58,-0.46,-0.34,-0.22,-0.1,0.02,0.14,0.26,0.38,0.5,0.62],
[0.38,-0.74,-0.6,-0.46,-0.32,-0.18,-0.04,0.1,0.24,0.38,0.52,0.66],
[0.25,-0.8,-0.66,-0.52,-0.38,-0.24,-0.1,0.04,0.18,0.32,0.46,0.6,0.74],
[0.12,-0.86,-0.72,-0.58,-0.44,-0.3,-0.16,-0.02,0.12,0.26,0.4,0.54,0.68]
];
const C_zero = [-4.61,-4.03,-2.22,-1.92,-1.74,-1.48,-1.35,-1.23,-1.13,-1.03,-0.93,-0.83,-0.73,-0.63,-0.53,-0.43,-0.33,-0.23,-0.13,-0.03,0.07,0.17,0.27,0.37,0.47,0.56,0.65,0.74,0.84,0.94,1.04,1.13,1.25,1.36,1.47,1.58,1.69,1.78,2.18,2.32];
const C_leftX = [-5.3,-4.42,-4.38,-1.14,-0.8,-0.54,-0.32,-0.23,-0.17,-0.13];
const C_leftY = [0.6,0.6,0.68,0.7,0.8,0.95,1.47,2.71,7.27,17.4];
const C_rightX = [0.11,0.16,0.22,0.35,0.61,1.13,1.17,4.41,4.45,5.18];
const C_rightY = [17.4,5.2,1.89,1.06,0.81,0.68,0.6,0.6,0.55,0.55];

// ---------- Panel D : - Log2 P+UVA_D7/UVA_D7 ----------
const D_points = [
[-3.32,9.69],[-2.68,1.90],[-2.06,8.18],[-1.89,6.36],[-1.99,5.38],[-1.90,5.32],[-1.89,4.83],[-1.79,8.46],[-1.74,7.64],[-1.60,11.59],[-1.62,5.54],[-1.62,3.13],[-1.60,2.15],[-1.55,8.09],[-1.50,7.05],[-1.53,6.07],[-1.48,4.31],[-1.46,5.48],[-1.38,7.77],[-1.29,10.08],[-1.27,9.85],[-1.19,11.75],[-1.19,11.45],[-1.15,9.46],[-1.19,8.61],[-1.11,6.01],[-1.05,5.48],[-0.94,9.2],[-0.93,2.45],[-0.81,8.22],[-0.74,7.64],[-0.57,7.11],[-0.45,8.38],
[1.11,15.76],[0.82,14.25],[1.35,14.33],[0.45,13.51],[1.73,13.41],[0.86,13.12],[1.08,12.72],[1.32,12.72],[0.49,11.88],[0.67,11.35],[0.99,11.84],[1.23,11.7],[1.34,11.55],[1.75,11.16],[1.96,11.02],[2.21,10.73],[1.59,10.47],[1.99,10.47],[1.85,10.02],[2.08,9.89],[1.59,9.59],[2.59,9.53],[3.07,9.89],[3.15,9.85],[1.41,8.81],[1.66,8.81],[1.85,8.81],[2.18,8.46],[1.41,8.18],[1.63,7.99],[1.94,8.09],[2.01,7.77],[2.40,7.97],[3.47,7.69],[3.42,6.85],[2.69,6.95],[2.28,7.0],[1.81,6.85],[1.41,6.01],[1.51,5.97],[1.96,6.13],[1.59,5.54],[2.30,5.42],[2.21,4.50],[2.25,4.11],[2.32,3.95],[1.51,3.33],[1.80,2.94],[2.03,2.88],[1.22,2.74],[1.31,4.95],[1.22,4.89],[1.39,4.79],[1.04,4.01],[0.77,0.53]
];
const D_rows = [
[8.4,-1.05,-0.85],
[8.0,-1.15,-1.0,-0.75,-0.6],
[7.6,-1.25,-1.05,-0.9,-0.72,-0.55],
[7.2,-1.3,-1.15,-1.0,-0.85,-0.7,-0.5],
[6.8,-1.35,-1.2,-1.05,-0.9,-0.78,-0.62,-0.45],
[6.4,-1.25,-1.12,-0.98,-0.85,-0.72,-0.58,-0.44],
[6.0,-1.4,-1.2,-1.05,-0.92,-0.8,-0.68,-0.55,-0.42,-0.3],
[5.8,-1.22,-1.08,-0.94,-0.82,-0.7,-0.58,-0.46,-0.34],
[5.6,-1.3,-1.15,-1.0,-0.88,-0.76,-0.64,-0.52,-0.4,-0.28],
[5.4,-1.26,-1.15,-1.01,-0.89,-0.77,-0.65,-0.53,-0.41,-0.31],
[5.2,-1.22,-1.08,-0.95,-0.83,-0.71,-0.59,-0.47,-0.36,-0.26],
[5.0,-1.17,-1.04,-0.92,-0.8,-0.68,-0.56,-0.44,-0.34,-0.25],
[4.8,-1.25,-1.1,-0.98,-0.86,-0.74,-0.62,-0.5,-0.39,-0.29,-0.21],
[4.6,-1.2,-1.08,-0.96,-0.84,-0.72,-0.6,-0.48,-0.37,-0.27],
[4.4,-1.15,-1.02,-0.9,-0.78,-0.66,-0.54,-0.43,-0.32,-0.23],
[4.2,-1.12,-0.99,-0.87,-0.75,-0.63,-0.52,-0.4,-0.3,-0.22],
[4.0,-1.2,-1.05,-0.93,-0.81,-0.69,-0.57,-0.46,-0.35,-0.25],
[3.8,-1.16,-1.03,-0.91,-0.79,-0.67,-0.55,-0.44,-0.33,-0.24],
[3.6,-1.1,-0.97,-0.85,-0.73,-0.61,-0.5,-0.39,-0.29,-0.21],
[3.4,-1.05,-0.92,-0.8,-0.68,-0.56,-0.45,-0.35,-0.26],
[3.2,-1.0,-0.88,-0.76,-0.64,-0.53,-0.42,-0.32,-0.23],
[3.0,-0.98,-0.85,-0.73,-0.61,-0.5,-0.4,-0.3,-0.22],
[2.8,-0.95,-0.82,-0.7,-0.58,-0.47,-0.36,-0.26],
[2.6,-0.9,-0.78,-0.66,-0.55,-0.44,-0.34,-0.26],
[2.4,-0.88,-0.75,-0.63,-0.52,-0.41,-0.31,-0.24],
[2.2,-0.84,-0.72,-0.6,-0.49,-0.39,-0.3],
[2.0,-0.8,-0.68,-0.56,-0.45,-0.35,-0.27],
[1.8,-0.76,-0.64,-0.53,-0.43,-0.34,-0.26],
[1.6,-0.72,-0.6,-0.49,-0.39,-0.3],
[1.4,-0.68,-0.56,-0.45,-0.36,-0.28],
[1.2,-0.62,-0.5,-0.4,-0.32],
[12.0,0.72,0.9,1.05],
[11.6,0.6,0.85,1.1],
[11.2,0.55,0.75,0.92,1.1,1.3],
[10.8,0.5,0.65,0.8,0.95,1.2],
[10.4,0.45,0.6,0.72,0.85,0.98,1.12,1.3],
[10.0,0.42,0.55,0.68,0.8,0.93,1.06,1.2],
[9.6,0.4,0.52,0.64,0.76,0.88,1.0,1.15,1.35],
[9.4,0.44,0.56,0.68,0.8,0.92,1.04,1.18],
[9.2,0.38,0.5,0.62,0.74,0.86,0.98,1.1,1.25],
[9.0,0.42,0.54,0.66,0.78,0.9,1.02,1.15],
[8.8,0.36,0.48,0.6,0.72,0.84,0.96,1.08,1.22,1.45],
[8.6,0.4,0.52,0.64,0.76,0.88,1.0,1.13],
[8.4,0.35,0.46,0.58,0.7,0.82,0.94,1.06,1.2],
[8.2,0.39,0.5,0.62,0.74,0.86,0.98,1.1,1.25],
[8.0,0.34,0.45,0.56,0.68,0.8,0.92,1.04,1.18,1.35],
[7.8,0.38,0.49,0.6,0.72,0.84,0.96,1.08,1.22],
[7.6,0.33,0.44,0.55,0.66,0.78,0.9,1.02,1.15,1.3],
[7.4,0.37,0.48,0.59,0.7,0.82,0.94,1.06,1.2],
[7.2,0.32,0.43,0.54,0.65,0.76,0.88,1.0,1.13,1.28],
[7.0,0.36,0.47,0.58,0.69,0.8,0.92,1.04,1.18],
[6.8,0.31,0.42,0.53,0.64,0.75,0.86,0.98,1.1,1.25],
[6.6,0.35,0.46,0.57,0.68,0.79,0.9,1.02,1.15],
[6.4,0.3,0.41,0.52,0.63,0.74,0.85,0.96,1.08,1.22],
[6.2,0.34,0.45,0.56,0.67,0.78,0.89,1.0,1.12],
[6.0,0.29,0.4,0.51,0.62,0.73,0.84,0.95,1.07],
[5.8,0.33,0.44,0.55,0.66,0.77,0.88,0.99,1.12],
[5.6,0.28,0.39,0.5,0.61,0.72,0.83,0.94,1.06,1.2],
[5.4,0.32,0.43,0.54,0.65,0.76,0.87,0.98,1.1],
[5.2,0.27,0.38,0.49,0.6,0.71,0.82,0.93,1.04],
[5.0,0.31,0.42,0.53,0.64,0.75,0.86,0.97,1.08],
[4.8,0.26,0.37,0.48,0.59,0.7,0.81,0.92,1.03,1.15],
[4.6,0.3,0.41,0.52,0.63,0.74,0.85,0.96],
[4.4,0.25,0.36,0.47,0.58,0.69,0.8,0.91,1.02],
[4.2,0.29,0.4,0.51,0.62,0.73,0.84,0.95],
[4.0,0.24,0.35,0.46,0.57,0.68,0.79,0.9],
[3.8,0.28,0.39,0.5,0.61,0.72,0.83],
[3.6,0.23,0.34,0.45,0.56,0.67,0.78,0.88],
[3.4,0.27,0.38,0.49,0.6,0.71,0.82],
[3.2,0.22,0.33,0.44,0.55,0.66,0.77],
[3.0,0.27,0.37,0.48,0.59,0.7,0.82],
[2.8,0.22,0.32,0.43,0.54,0.65,0.76,0.88],
[2.6,0.27,0.37,0.47,0.58,0.69,0.8],
[2.4,0.22,0.32,0.42,0.53,0.64,0.75,0.86],
[2.2,0.28,0.38,0.49,0.6,0.72,0.84],
[2.0,0.24,0.34,0.44,0.55,0.66,0.78,0.9],
[1.8,0.31,0.42,0.53,0.65,0.78],
[1.6,0.28,0.38,0.48,0.6,0.72,0.85],
[1.4,0.38,0.5,0.62,0.75],
[1.2,0.35,0.46,0.58,0.7],
[2.8,0.02],
[2.3,-0.03,0.06],
[1.8,-0.06,0.03,0.1],
[1.4,-0.1,0,0.1],
[1.0,-0.45,-0.35,-0.25,-0.15,-0.05,0.05,0.15,0.25,0.35,0.45],
[0.85,-0.5,-0.4,-0.3,-0.2,-0.1,0,0.1,0.2,0.3,0.4,0.5],
[0.7,-0.6,-0.5,-0.4,-0.3,-0.2,-0.1,0,0.1,0.2,0.3,0.4,0.5,0.6],
[0.58,-0.62,-0.52,-0.42,-0.32,-0.22,-0.12,-0.02,0.08,0.18,0.28,0.38,0.48,0.58],
[0.45,-0.65,-0.55,-0.45,-0.35,-0.25,-0.15,-0.05,0.05,0.15,0.25,0.35,0.45,0.55,0.65],
[0.32,-0.7,-0.6,-0.5,-0.4,-0.3,-0.2,-0.1,0,0.1,0.2,0.3,0.4,0.5,0.6,0.7],
[0.2,-0.75,-0.65,-0.55,-0.45,-0.35,-0.25,-0.15,-0.05,0.05,0.15,0.25,0.35,0.45,0.55,0.65,0.75],
[0.08,-0.8,-0.7,-0.6,-0.5,-0.4,-0.3,-0.2,-0.1,0,0.1,0.2,0.3,0.4,0.5,0.6,0.7,0.8]
];
const D_zero = [-1.59,-1.26,-1.18,-1.0,-0.91,-0.78,-0.7,-0.62,-0.54,-0.46,-0.38,-0.3,-0.22,-0.14,-0.06,0.02,0.1,0.18,0.26,0.34,0.42,0.5,0.58,0.66,0.74,0.82,0.9,0.98,1.08,1.18,1.28,1.38,1.74,2.65];
const D_curveX = [-4.1,-3.08,-3.04,-1.14,-1.1,-0.71,-0.43,-0.26,-0.19,-0.17,-0.16,0.13,0.14,0.21,0.35,0.63,1.07,1.1,3.03,3.07,4.0];
const D_curveY = [0.65,0.65,0.74,0.76,0.84,1.0,1.39,2.17,3.93,8.83,12.31,12.31,3.93,1.98,1.2,0.9,0.76,0.7,0.7,0.65,0.65];

// ---------- build ----------
const PT_COLOR = '#a8a8a8';
function pointsTrace(pts, rows, zero, xa, ya) {
  const xs = [], ys = [];
  pts.forEach(p => { xs.push(p[0]); ys.push(p[1]); });
  rows.forEach(r => { for (let i = 1; i < r.length; i++) { xs.push(r[i]); ys.push(r[0]); } });
  zero.forEach(x => { xs.push(x); ys.push(0); });
  return {x: xs, y: ys, xaxis: xa, yaxis: ya, type: 'scatter', mode: 'markers', hoverinfo: 'skip',
    marker: {symbol: 'square-open', size: 5, color: PT_COLOR, line: {width: 1, color: PT_COLOR}}};
}
function lineTrace(xs, ys, xa, ya) {
  return {x: xs, y: ys, xaxis: xa, yaxis: ya, type: 'scatter', mode: 'lines', hoverinfo: 'skip',
    line: {color: '#000', width: 2.6}};
}
const traces = [
  pointsTrace(A_points, A_rows, A_zero, 'x', 'y'),
  lineTrace(A_curveX, A_curveY, 'x', 'y'),
  pointsTrace(B_points, B_rows, B_zero, 'x2', 'y2'),
  lineTrace(B_leftX, B_leftY, 'x2', 'y2'),
  lineTrace(B_rightX, B_rightY, 'x2', 'y2'),
  pointsTrace(C_points, C_rows, C_zero, 'x3', 'y3'),
  lineTrace(C_leftX, C_leftY, 'x3', 'y3'),
  lineTrace(C_rightX, C_rightY, 'x3', 'y3'),
  pointsTrace(D_points, D_rows, D_zero, 'x4', 'y4'),
  lineTrace(D_curveX, D_curveY, 'x4', 'y4')
];

const W = 990, H = 809;
const px = v => v / W, py = v => 1 - v / H;
const tickFont = {family: 'Liberation Sans', size: 10, color: '#2e3652'};
function xAx(dom, range, anchor) {
  return {domain: dom, range: range, anchor: anchor, showline: true, linecolor: '#555', linewidth: 1,
    ticks: 'outside', ticklen: 5, tickcolor: '#555', tickvals: [-4,-2,0,2,4], showgrid: false,
    zeroline: false, tickfont: tickFont, fixedrange: true};
}
function yAx(dom, range, anchor, vals) {
  return {domain: dom, range: range, anchor: anchor, showline: true, linecolor: '#555', linewidth: 1,
    ticks: 'outside', ticklen: 5, tickcolor: '#555', tickvals: vals, tickangle: -90, showgrid: false,
    zeroline: false, tickfont: tickFont, fixedrange: true};
}
const serif = 'Liberation Serif';
const sans = 'Lato';
function ann(text, x, y, size, fam, angle) {
  return {text: text, xref: 'paper', yref: 'paper', x: px(x), y: py(y), xanchor: 'center', yanchor: 'middle',
    showarrow: false, textangle: angle || 0, font: {family: fam, size: size, color: '#000'}};
}
const layout = {
  width: W, height: H, margin: {l: 0, r: 0, t: 0, b: 0},
  paper_bgcolor: '#fff', plot_bgcolor: '#fff', showlegend: false,
  font: {family: 'Liberation Sans'},
  xaxis: xAx([px(111), px(515)], [-4.25, 4.82], 'y'),
  yaxis: yAx([py(328), py(33)], [-1.1, 22.04], 'x', [0,10,20]),
  xaxis2: xAx([px(578), px(977)], [-4.1, 4.0], 'y2'),
  yaxis2: yAx([py(328), py(33)], [-0.55, 11.1], 'x2', [0,5,10]),
  xaxis3: xAx([px(111), px(515)], [-5.3, 5.18], 'y3'),
  yaxis3: yAx([py(736.7), py(441.7)], [-0.93, 17.4], 'x3', [0,5,10,15]),
  xaxis4: xAx([px(581.7), px(975)], [-4.1, 4.0], 'y4'),
  yaxis4: yAx([py(736), py(441.7)], [-0.84, 16.43], 'x4', [0,5,10,15]),
  annotations: [
    ann('A', 29, 46, 38, sans), ann('B', 514, 43, 38, sans),
    ann('C', 44, 437, 38, sans), ann('D', 515, 454, 38, sans),
    ann('- log<sub>10</sub> P', 53, 205, 26, serif, -90),
    ann('- log<sub>10</sub> P', 522, 175, 26, serif, -90),
    ann('- log<sub>10</sub> P', 52, 594, 26, serif, -90),
    ann('- log<sub>10</sub> P', 527, 592, 26, serif, -90),
    ann('- Log2 UVA_48h/NC48h', 311, 381, 25, serif),
    ann('- Log2 P+UVA_48h/UVA_48h', 818, 381, 25, serif),
    ann('- Log2 UVA_D7/NC_D7', 315, 794, 25, serif),
    ann('- Log2 P+UVA_D7/UVA_D7', 792, 795, 25, serif)
  ]
};
Plotly.newPlot('chart', traces, layout, {staticPlot: true, displayModeBar: false});
</script>
</body>
</html>
